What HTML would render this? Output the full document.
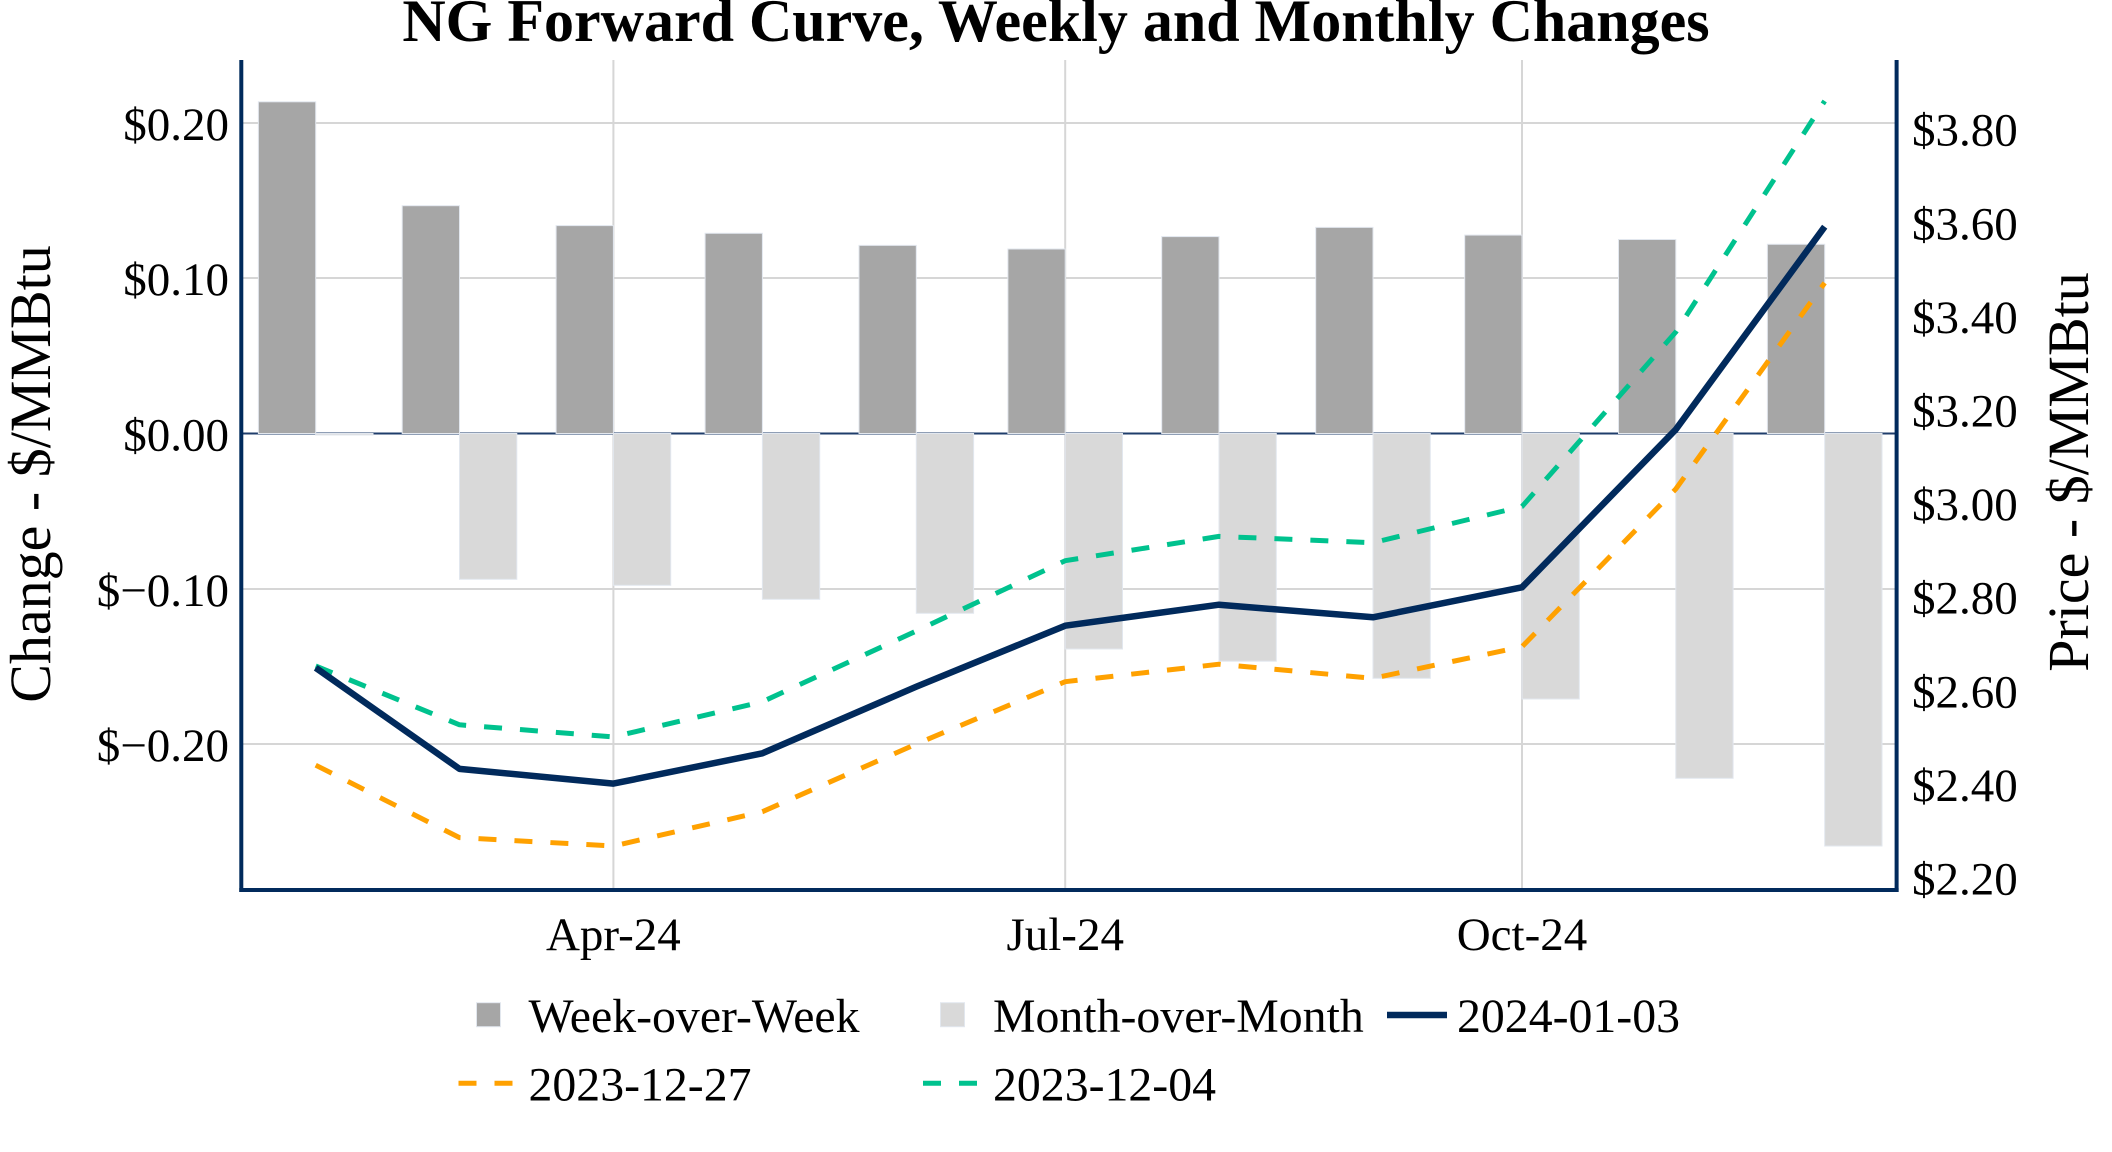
<!DOCTYPE html>
<html>
<head>
<meta charset="utf-8">
<style>
  html, body { margin: 0; padding: 0; background: #ffffff; }
  svg { display: block; }
  text { font-family: "Liberation Serif", "Times New Roman", serif; fill: #000; }
</style>
</head>
<body>
<svg width="2112" height="1152" viewBox="0 0 2112 1152" xmlns="http://www.w3.org/2000/svg">
  <rect x="0" y="0" width="2112" height="1152" fill="#ffffff"/>

  <!-- Title -->
  <text x="1056" y="41" text-anchor="middle" font-size="60" font-weight="bold">NG Forward Curve, Weekly and Monthly Changes</text>

  <!-- Gridlines -->
  <g stroke="#d6d6d6" stroke-width="2">
    <line x1="243" y1="123" x2="1895" y2="123"/>
    <line x1="243" y1="278" x2="1895" y2="278"/>
    <line x1="243" y1="589" x2="1895" y2="589"/>
    <line x1="243" y1="744" x2="1895" y2="744"/>
    <line x1="613.4" y1="60" x2="613.4" y2="888"/>
    <line x1="1065.2" y1="60" x2="1065.2" y2="888"/>
    <line x1="1522" y1="60" x2="1522" y2="888"/>
  </g>

  <!-- Zero line -->
  <line x1="243" y1="433.5" x2="1895" y2="433.5" stroke="#1f3d6b" stroke-width="2"/>

  <!-- Week-over-Week bars -->
  <g fill="#a6a6a6" stroke="#e2e7ee" stroke-width="1">
    <rect x="258.4" y="101.8" width="57.3" height="331.7"/>
    <rect x="402.2" y="205.7" width="57.3" height="227.8"/>
    <rect x="556.1" y="225.6" width="57.3" height="207.9"/>
    <rect x="705.1" y="233.3" width="57.3" height="200.2"/>
    <rect x="859.0" y="245.4" width="57.3" height="188.1"/>
    <rect x="1007.9" y="249.0" width="57.3" height="184.5"/>
    <rect x="1161.7" y="236.6" width="57.3" height="196.9"/>
    <rect x="1315.7" y="227.4" width="57.3" height="206.1"/>
    <rect x="1464.7" y="235.1" width="57.3" height="198.4"/>
    <rect x="1618.5" y="239.5" width="57.3" height="194.0"/>
    <rect x="1767.4" y="244.3" width="57.3" height="189.2"/>
  </g>

  <!-- Month-over-Month bars -->
  <g fill="#d9d9d9" stroke="#e2e7ee" stroke-width="1">
    <rect x="315.7" y="433.5" width="57.3" height="1.5"/>
    <rect x="459.5" y="433.5" width="57.3" height="145.8"/>
    <rect x="613.4" y="433.5" width="57.3" height="151.8"/>
    <rect x="762.4" y="433.5" width="57.3" height="165.8"/>
    <rect x="916.3" y="433.5" width="57.3" height="179.8"/>
    <rect x="1065.2" y="433.5" width="57.3" height="215.5"/>
    <rect x="1219.0" y="433.5" width="57.3" height="227.7"/>
    <rect x="1373.0" y="433.5" width="57.3" height="244.8"/>
    <rect x="1522.0" y="433.5" width="57.3" height="265.5"/>
    <rect x="1675.8" y="433.5" width="57.3" height="344.8"/>
    <rect x="1824.7" y="433.5" width="57.3" height="412.5"/>
  </g>

  <!-- Lines -->
  <polyline fill="none" stroke="#00c28e" stroke-width="5" stroke-dasharray="18 18" stroke-linejoin="round"
    points="315.7,666 459.5,724.8 613.4,736.9 762.4,701.7 916.3,631 1065.2,560.7 1219,536.4 1373,542.7 1522,506.5 1675.8,332 1824.7,101"/>
  <polyline fill="none" stroke="#ffa100" stroke-width="5" stroke-dasharray="18 18" stroke-linejoin="round"
    points="315.7,765.2 459.5,837.6 613.4,846 762.4,811.7 916.3,744 1065.2,681.7 1219,664.2 1373,678.3 1522,646.7 1675.8,489 1824.7,282.9"/>
  <polyline fill="none" stroke="#012a5c" stroke-width="6.5" stroke-linejoin="round"
    points="315.7,667.8 459.5,768.9 613.4,783.6 762.4,753.3 916.3,686.7 1065.2,625.7 1219,604.7 1373,617.3 1522,587.3 1675.8,429.5 1824.7,226.7"/>

  <!-- Axis lines -->
  <g stroke="#012a5c" stroke-width="4">
    <line x1="241.3" y1="60" x2="241.3" y2="892"/>
    <line x1="1896.6" y1="60" x2="1896.6" y2="892"/>
    <line x1="239.3" y1="890" x2="1898.6" y2="890"/>
  </g>

  <!-- Left tick labels -->
  <g font-size="47" text-anchor="end">
    <text x="229" y="140">$0.20</text>
    <text x="229" y="295">$0.10</text>
    <text x="229" y="450.5">$0.00</text>
    <text x="229" y="606">$−0.10</text>
    <text x="229" y="761">$−0.20</text>
  </g>

  <!-- Right tick labels -->
  <g font-size="47" text-anchor="start">
    <text x="1912" y="145.7">$3.80</text>
    <text x="1912" y="239.3">$3.60</text>
    <text x="1912" y="332.9">$3.40</text>
    <text x="1912" y="426.5">$3.20</text>
    <text x="1912" y="520.1">$3.00</text>
    <text x="1912" y="613.7">$2.80</text>
    <text x="1912" y="707.3">$2.60</text>
    <text x="1912" y="800.9">$2.40</text>
    <text x="1912" y="894.5">$2.20</text>
  </g>

  <!-- X tick labels -->
  <g font-size="47" text-anchor="middle">
    <text x="613.4" y="950">Apr-24</text>
    <text x="1065.2" y="950">Jul-24</text>
    <text x="1522" y="950">Oct-24</text>
  </g>

  <!-- Axis titles -->
  <text transform="translate(50,474) rotate(-90)" text-anchor="middle" font-size="58">Change - $/MMBtu</text>
  <text transform="translate(2088,472) rotate(-90)" text-anchor="middle" font-size="58">Price - $/MMBtu</text>

  <!-- Legend -->
  <rect x="476.5" y="1002.7" width="24" height="24" fill="#a6a6a6" stroke="#e2e7ee" stroke-width="1"/>
  <text x="528.5" y="1032" font-size="47.8">Week-over-Week</text>

  <rect x="940.5" y="1002.7" width="24" height="24" fill="#d9d9d9" stroke="#e2e7ee" stroke-width="1"/>
  <text x="993" y="1032" font-size="47.8">Month-over-Month</text>

  <line x1="1387" y1="1015" x2="1447" y2="1015" stroke="#012a5c" stroke-width="6.5"/>
  <text x="1457" y="1032" font-size="47.8">2024-01-03</text>

  <line x1="458.5" y1="1083.3" x2="518.5" y2="1083.3" stroke="#ffa100" stroke-width="5" stroke-dasharray="18 18"/>
  <text x="528.5" y="1100.5" font-size="47.8">2023-12-27</text>

  <line x1="923" y1="1083.3" x2="983" y2="1083.3" stroke="#00c28e" stroke-width="5" stroke-dasharray="18 18"/>
  <text x="993" y="1100.5" font-size="47.8">2023-12-04</text>
</svg>
</body>
</html>
